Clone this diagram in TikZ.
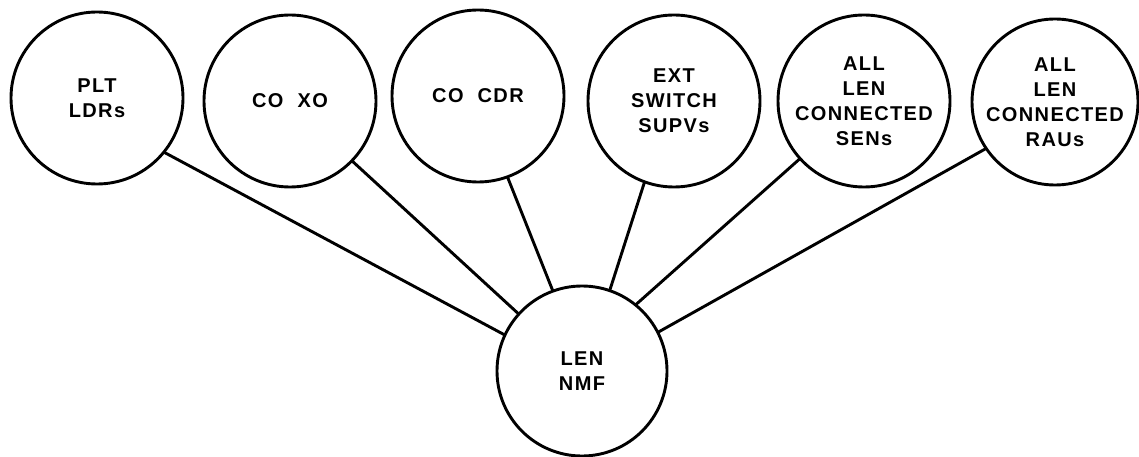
\documentclass[tikz,border=0pt]{standalone}
\usepackage{fontspec}
\setmainfont{Liberation Sans}[LetterSpace=7]
\begin{document}
\begin{tikzpicture}[x=1pt,y=-1pt,
  unit/.style={circle, draw, line width=2.9pt, minimum size=#1, inner sep=0pt, outer sep=0pt,
    align=center, font=\fontsize{20}{25}\selectfont\bfseries},
  unit/.default=172pt,
  link/.style={line width=2.9pt}]
\useasboundingbox (0,0) rectangle (1139,457);
% upper ring of units
\node[unit] (plt) at (97,98) {PLT\\LDRs};
\node[unit] (xo)  at (290,101) {CO\hspace{0.7em}XO};
\node[unit] (cdr) at (478,96) {CO\hspace{0.7em}CDR};
\node[unit] (ext) at (674,101) {EXT\\SWITCH\\SUPVs};
\node[unit] (sen) at (864,101) {ALL\\LEN\\CONNECTED\\SENs};
\node[unit=166pt] (rau) at (1055,102) {ALL\\LEN\\CONNECTED\\RAUs};
% central unit
\node[unit=170pt] (nmf) at (582,371) {LEN\\NMF};
% links to the central unit
\draw[link] (plt.-39)   -- (nmf.155);
\draw[link] (xo.-44)    -- (nmf.138);
\draw[link] (cdr.-70)   -- (nmf.110);
\draw[link] (ext.-110)  -- (nmf.71);
\draw[link] (sen.-138)  -- (nmf.51);
\draw[link] (rau.-146)  -- (nmf.27);
\end{tikzpicture}
\end{document}
